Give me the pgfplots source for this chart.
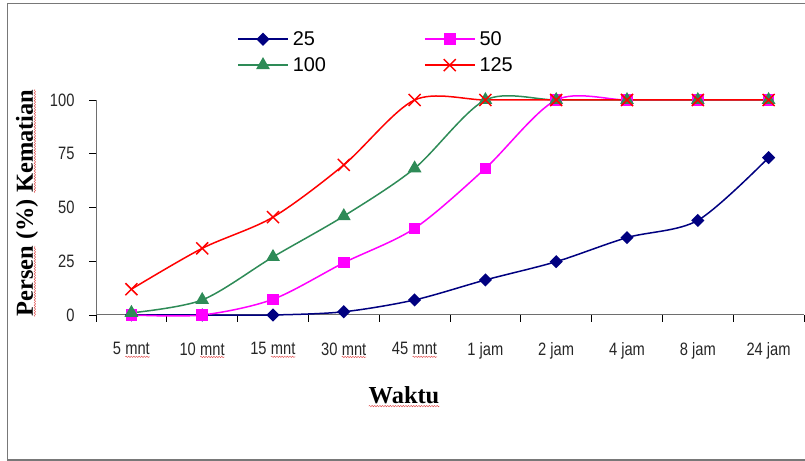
\documentclass[border=0pt]{standalone}
\usepackage{fontspec}
\setmainfont{Liberation Sans}
\newfontfamily\narrowfont[FakeStretch=0.82]{Liberation Sans}
\newfontfamily\serifb{Liberation Serif}
\usepackage{pgfplots}
\usetikzlibrary{decorations.pathmorphing}
\pgfplotsset{compat=1.18}
\definecolor{navyc}{RGB}{0,0,128}
\definecolor{magc}{RGB}{255,0,255}
\definecolor{greenc}{RGB}{46,139,87}
\definecolor{redc}{RGB}{255,0,0}
\definecolor{axisgray}{RGB}{110,110,110}
\definecolor{framegray}{RGB}{120,120,120}
\definecolor{spellred}{RGB}{225,80,80}
\newcommand{\wavy}[1]{\tikz[baseline=(w.base)]{\node[inner sep=0pt, outer sep=0pt](w){#1};\draw[spellred, line width=0.45bp, decorate, decoration={snake, amplitude=0.7bp, segment length=2.6bp}] ([yshift=-1.8bp]w.south west) -- ([yshift=-1.8bp]w.south east);}}
\begin{document}
\begin{tikzpicture}[x=1bp,y=1bp]
\useasboundingbox (0,0) rectangle (805,461);
\draw[framegray,line width=1.2bp] (810,1) -- (7.5,1) -- (7.5,457.5) -- (810,457.5);
\begin{axis}[
  at={(96bp,146bp)}, anchor=south west,
  scale only axis, width=708bp, height=215bp,
  xmin=-0.5, xmax=9.5, ymin=0, ymax=100,
  enlargelimits=false, clip=false,
  axis lines=left, axis line style={-, axisgray, line width=1bp},
  xtick={0,...,9},
  xticklabels={5 \wavy{mnt},10 \wavy{mnt},15 \wavy{mnt},30 \wavy{mnt},45 \wavy{mnt},1 jam,2 jam,4 jam,8 jam,24 jam},
  minor xtick={-0.5,0.5,...,9.5},
  major x tick style={draw=none},
  minor x tick style={black, line width=0.8bp},
  ytick={0,25,50,75,100},
  tick align=outside,
  major tick length=7bp, minor tick length=7bp,
  y tick style={black, line width=0.8bp},
  tick label style={font=\narrowfont\fontsize{18}{18}\selectfont, text=black!85},
  xticklabel style={yshift=-17bp},
  yticklabel style={xshift=-11bp},
  /pgf/number format/assume math mode=true,
  legend columns=2,
  legend style={at={(rel axis cs:0.195,1.338)}, anchor=north west, draw=none, fill=none,
    font=\fontsize{20}{20}\selectfont, cells={anchor=west}, row sep=6.5bp,
    nodes={inner xsep=4bp},
    /tikz/every even column/.append style={column sep=94bp}},
  legend image code/.code={\draw[mark repeat=2,mark phase=2] plot coordinates {(0bp,0bp) (25bp,0bp) (50bp,0bp)};},
]
\addplot[navyc, line width=1.5bp, smooth, mark=square*, mark size=3.9bp, mark options={rotate=45,solid}]
  coordinates {(0,0)(1,0)(2,0)(3,1.5)(4,7)(5,16.3)(6,24.8)(7,36)(8,44)(9,73.2)};
\addlegendentry{25}
\addplot[magc, line width=1.5bp, smooth, mark=square*, mark size=5bp, mark options={solid}]
  coordinates {(0,0)(1,0)(2,7.3)(3,24.3)(4,40.3)(5,68.2)(6,100)(7,100)(8,100)(9,100)};
\addlegendentry{50}
\addplot[greenc, line width=1.5bp, smooth, mark=triangle*, mark size=6.5bp, mark options={solid}]
  coordinates {(0,1)(1,7)(2,27)(3,46)(4,68.2)(5,100)(6,100)(7,100)(8,100)(9,100)};
\addlegendentry{100}
\addplot[redc, line width=1.5bp, smooth, mark=x, mark size=8.5bp, mark options={solid, line width=1.5bp}]
  coordinates {(0,12)(1,31)(2,45.5)(3,69.8)(4,100)(5,100)(6,100)(7,100)(8,100)(9,100)};
\addlegendentry{125}
\end{axis}
\node[rotate=90, font=\serifb\bfseries\fontsize{24.5}{24.5}\selectfont] at (27,258) {\wavy{Persen} (\%) \wavy{Kematian}};
\node[font=\serifb\bfseries\fontsize{24.5}{24.5}\selectfont] at (404,64) {\wavy{Waktu}};
\end{tikzpicture}
\end{document}
